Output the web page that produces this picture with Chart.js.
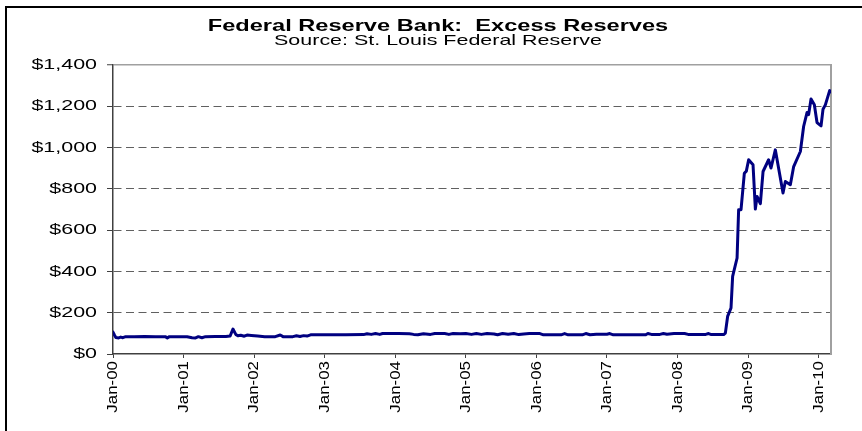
<!DOCTYPE html>
<html><head><meta charset="utf-8">
<script src="https://cdn.jsdelivr.net/npm/chart.js@4.4.1/dist/chart.umd.min.js"></script>
<style>
html,body{margin:0;padding:0;background:#fff;}
#wrap{position:relative;width:862px;height:431px;overflow:hidden;background:#fff;}
#frame{position:absolute;left:5px;top:6px;width:900px;height:500px;border-top:2px solid #000;border-left:2px solid #000;}
canvas{position:absolute;left:0;top:0;}
</style></head><body>
<div id="wrap"><div id="frame"></div><canvas id="c" width="862" height="431"></canvas></div>
<script>
// ---- data ----
const titleText = 'Federal Reserve Bank:  Excess Reserves';
const subtitleText = 'Source: St. Louis Federal Reserve';

// time of each observation, in decimal years
const times = [
  2000.00, 2000.02, 2000.04, 2000.08, 2000.11, 2000.14, 2000.18, 2000.30, 2000.45, 2000.60, 2000.74, 2000.77, 2000.80, 2000.95,
  2001.05, 2001.12, 2001.17, 2001.21, 2001.26, 2001.31, 2001.45, 2001.60, 2001.66, 2001.70, 2001.74, 2001.77, 2001.81, 2001.86, 2001.90, 2001.96,
  2002.05, 2002.15, 2002.30, 2002.37, 2002.41, 2002.55, 2002.60, 2002.65, 2002.70, 2002.75, 2002.80,
  2003.00, 2003.30, 2003.55, 2003.60, 2003.66, 2003.72, 2003.78, 2003.82, 2003.90,
  2004.05, 2004.20, 2004.26, 2004.32, 2004.40, 2004.50, 2004.56, 2004.70, 2004.76, 2004.82, 2004.92,
  2005.00, 2005.08, 2005.15, 2005.22, 2005.30, 2005.40, 2005.45, 2005.52, 2005.60, 2005.68, 2005.75, 2005.82, 2005.90,
  2006.05, 2006.10, 2006.35, 2006.40, 2006.45, 2006.65, 2006.70, 2006.76, 2006.85,
  2007.00, 2007.04, 2007.09, 2007.55, 2007.58, 2007.63, 2007.75, 2007.80, 2007.85, 2007.95,
  2008.00, 2008.10, 2008.15, 2008.40, 2008.44, 2008.48, 2008.654, 2008.678, 2008.710, 2008.758, 2008.781, 2008.844, 2008.866, 2008.900, 2008.947, 2008.975,
  2009.008, 2009.070, 2009.103, 2009.127, 2009.174, 2009.212, 2009.291, 2009.325, 2009.386, 2009.495, 2009.528, 2009.599, 2009.646, 2009.741, 2009.787, 2009.836, 2009.858, 2009.892, 2009.939, 2009.977,
  2010.034, 2010.062, 2010.095, 2010.156, 2010.176
];
// excess reserves, $ billions
const excessReserves = [
  106, 92, 80, 78, 82, 79, 84, 84, 85, 84, 84, 78, 84, 84,
  84, 79, 78, 84, 79, 84, 85, 85, 87, 121, 95, 88, 91, 86, 92, 90,
  87, 84, 84, 92, 84, 84, 88, 85, 89, 87, 93,
  93, 93, 94, 98, 95, 99, 95, 99, 99,
  99, 98, 95, 93, 98, 95, 99, 99, 95, 99, 98,
  99, 95, 99, 95, 99, 97, 93, 99, 96, 99, 94, 97, 99,
  99, 93, 93, 99, 93, 93, 99, 93, 96,
  96, 99, 93, 93, 99, 95, 95, 99, 96, 99,
  99, 99, 95, 95, 99, 94, 94, 101, 182, 223, 376, 465, 699, 699, 876, 886,
  941, 917, 702, 763, 728, 884, 941, 901, 989, 780, 836, 820, 908, 981, 1102, 1170, 1160, 1235, 1207, 1121,
  1105, 1186, 1207, 1276, 1270
];

const xTickYears = [2000, 2001, 2002, 2003, 2004, 2005, 2006, 2007, 2008, 2009, 2010];
const xTickLabels = ['Jan-00', 'Jan-01', 'Jan-02', 'Jan-03', 'Jan-04', 'Jan-05', 'Jan-06', 'Jan-07', 'Jan-08', 'Jan-09', 'Jan-10'];
const yTickValues = [0, 200, 400, 600, 800, 1000, 1200, 1400];
const yTickLabels = ['$0', '$200', '$400', '$600', '$800', '$1,000', '$1,200', '$1,400'];

// ---- wide (Excel-like) text rendering: horizontal stretch per font size ----
const TEXT_STRETCH = {'16.5': 1.43, '15': 1.43, '15.5': 1.09};
function stretchOf(font) {
  const m = /([\d.]+)px/.exec(font);
  return (m && TEXT_STRETCH[m[1]]) || 1;
}
const canvas = document.getElementById('c');
const ctx = canvas.getContext('2d');
const protoFill = CanvasRenderingContext2D.prototype.fillText;
const protoMeasure = CanvasRenderingContext2D.prototype.measureText;
ctx.fillText = function (text, x, y, maxWidth) {
  const s = stretchOf(this.font);
  if (s === 1) {
    return maxWidth === undefined ? protoFill.call(this, text, x, y) : protoFill.call(this, text, x, y, maxWidth);
  }
  this.save();
  this.translate(x, y);
  this.scale(s, 1);
  if (maxWidth === undefined) protoFill.call(this, text, 0, 0);
  else protoFill.call(this, text, 0, 0, maxWidth / s);
  this.restore();
};
ctx.measureText = function (text) {
  const m = protoMeasure.call(this, text);
  const s = stretchOf(this.font);
  if (s === 1) return m;
  return {
    width: m.width * s,
    actualBoundingBoxLeft: m.actualBoundingBoxLeft * s,
    actualBoundingBoxRight: m.actualBoundingBoxRight * s,
    actualBoundingBoxAscent: m.actualBoundingBoxAscent,
    actualBoundingBoxDescent: m.actualBoundingBoxDescent,
    fontBoundingBoxAscent: m.fontBoundingBoxAscent,
    fontBoundingBoxDescent: m.fontBoundingBoxDescent
  };
};

Chart.defaults.font.family = '"Liberation Sans", Arial, sans-serif';
Chart.defaults.color = '#000';

new Chart(canvas, {
  type: 'line',
  data: {
    datasets: [{
      label: 'Excess Reserves',
      data: times.map((t, i) => ({x: t, y: excessReserves[i]})),
      borderColor: '#000080',
      backgroundColor: '#000080',
      borderWidth: 3,
      pointRadius: 0,
      tension: 0,
      fill: false,
      borderJoinStyle: 'round',
      borderCapStyle: 'round',
      xAxisID: 'x',
      yAxisID: 'y'
    }]
  },
  options: {
    responsive: false,
    animation: false,
    devicePixelRatio: 1,
    layout: {padding: {left: 14, right: 0, top: 0, bottom: 0}},
    plugins: {
      legend: {display: false},
      tooltip: {enabled: false},
      title: {
        display: true, text: titleText, color: '#000',
        font: {size: 16.5, weight: 'bold', lineHeight: 0.8},
        padding: {top: 20, bottom: 0}
      },
      subtitle: {
        display: true, text: subtitleText, color: '#000',
        font: {size: 15, weight: 'normal', lineHeight: 0.8},
        padding: {top: 1.3, bottom: 18.5}
      }
    },
    scales: {
      x: {
        type: 'linear', position: 'bottom', min: 2000, max: 2010.175,
        afterBuildTicks: s => { s.ticks = xTickYears.map(v => ({value: v})); },
        afterFit: s => { s.height = 77; },
        grid: {drawOnChartArea: false, drawTicks: true, tickLength: 4, tickColor: '#404040', tickWidth: 1},
        border: {display: true, color: '#404040', width: 1.5},
        ticks: {
          autoSkip: false, maxRotation: 90, minRotation: 90, padding: 3, color: '#000',
          font: {size: 15.5},
          callback: (v, i) => xTickLabels[i]
        }
      },
      y: {
        type: 'linear', position: 'left', min: 0, max: 1400,
        afterBuildTicks: s => { s.ticks = yTickValues.map(v => ({value: v})); },
        afterFit: s => { s.width = 99; },
        grid: {
          color: c => (c.tick && c.tick.value === 0) ? 'rgba(0,0,0,0)' : (c.tick && c.tick.value === 1400 ? '#a0a0a0' : '#606060'),
          lineWidth: c => (c.tick && c.tick.value === 1400) ? 1.5 : 1,
          drawTicks: true, tickLength: 6, tickColor: '#404040', tickWidth: 1
        },
        border: {
          display: true, color: '#404040', width: 1.5,
          dash: c => (c.tick && c.tick.value !== 1400) ? [8, 4.5] : []
        },
        ticks: {padding: 10, color: '#000', font: {size: 15}, callback: (v, i) => yTickLabels[i]}
      },
      y2: {
        position: 'right', display: true,
        grid: {display: false, drawTicks: false},
        ticks: {display: false},
        border: {display: true, color: '#a0a0a0', width: 2},
        afterFit: s => { s.width = 31; }
      }
    }
  }
});
</script>
</body></html>
